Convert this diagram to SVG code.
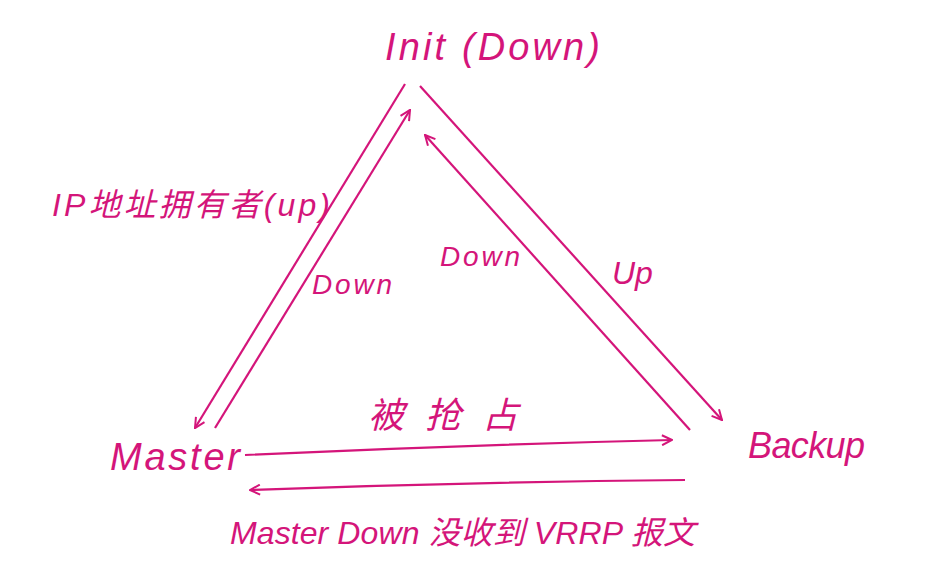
<svg xmlns="http://www.w3.org/2000/svg" width="937" height="570" viewBox="0 0 937 570">
<style>
.t{fill:#d4157a;font-family:"Liberation Sans","Noto Sans CJK SC",sans-serif;font-style:italic}
.c{stroke:#d4157a;stroke-width:2.2;fill:none;marker-end:url(#ah)}
</style>
<defs>
<marker id="ah" viewBox="0 0 12 12" refX="11" refY="6" markerWidth="12" markerHeight="12" markerUnits="userSpaceOnUse" orient="auto">
<path d="M1,1 L11,6 L1,11" fill="none" stroke="#d4157a" stroke-width="2"/>
</marker>
</defs>
<rect width="937" height="570" fill="#ffffff"/>
<g id="init"><text class="t" x="385" y="60" font-size="38" textLength="215">Init (Down)</text></g>
<g id="master"><text class="t" x="110" y="470" font-size="38" textLength="130">Master</text></g>
<g id="backup"><text class="t" x="748" y="458" font-size="36" textLength="117">Backup</text></g>
<g id="connectors">
<path class="c" d="M405,84 L195,428"/>
<path class="c" d="M215,428 L410,110"/>
<path class="c" d="M690,430 L425,135"/>
<path class="c" d="M420,86 L722,420"/>
<path class="c" d="M245,455 Q460,445 672,440"/>
<path class="c" d="M685,480 Q470,482 250,490"/>
</g>
<g id="labels">
<text class="t" x="52" y="216" font-size="32" textLength="278">IP地址拥有者(up)</text>
<text class="t" x="312" y="294" font-size="28" textLength="80">Down</text>
<text class="t" x="440" y="266" font-size="28" textLength="80">Down</text>
<text class="t" x="612" y="284" font-size="32">Up</text>
<text class="t" x="368" y="428" font-size="36" textLength="150">被抢占</text>
<text class="t" x="230" y="544" font-size="32" textLength="465">Master Down 没收到 VRRP 报文</text>
</g>
</svg>
